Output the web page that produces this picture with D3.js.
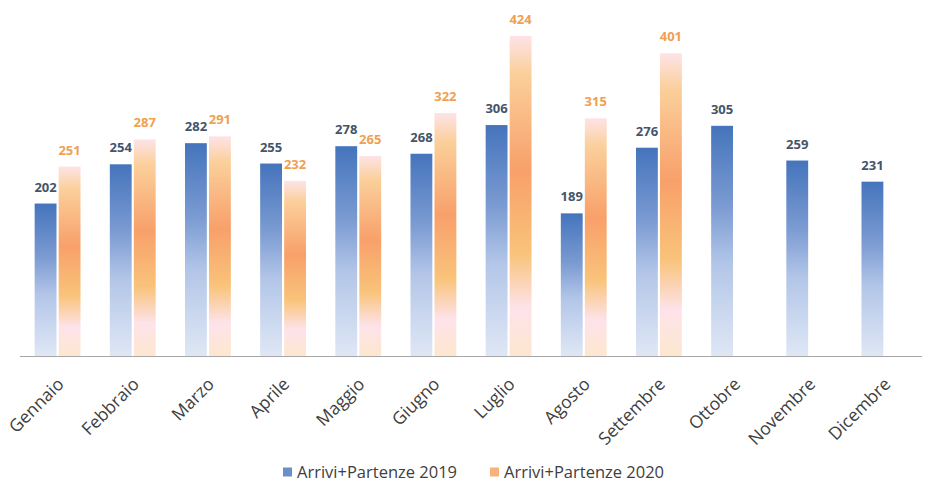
<!DOCTYPE html>
<html>
<head>
<meta charset="utf-8">
<script src="https://cdn.jsdelivr.net/npm/d3@7"></script>
<style>
  body { margin: 0; background: #fff; }
  svg { display: block; font-family: "Open Sans", "Liberation Sans", sans-serif; }
</style>
</head>
<body>
<div id="chart"></div>
<script>
// ---- data ----
const months = ["Gennaio","Febbraio","Marzo","Aprile","Maggio","Giugno","Luglio","Agosto","Settembre","Ottobre","Novembre","Dicembre"];
const series = ["Arrivi+Partenze 2019","Arrivi+Partenze 2020"];
const values2019 = [202,254,282,255,278,268,306,189,276,305,259,231];
const values2020 = [251,287,291,232,265,322,424,315,401,null,null,null];

const width = 926, height = 483;
const baseY = 356;

const svg = d3.select("#chart").append("svg")
    .attr("width", width)
    .attr("height", height);

// gradients
const defs = svg.append("defs");
const gBlue = defs.append("linearGradient").attr("id","gBlue")
    .attr("x1",0).attr("y1",0).attr("x2",0).attr("y2",1);
[[0,"#4574bc"],[0.35,"#7b9bd2"],[0.6,"#b3c6e8"],[1,"#dfe7f5"]].forEach(function(s){
    gBlue.append("stop").attr("offset",s[0]).attr("stop-color",s[1]);
});
const gOrange = defs.append("linearGradient").attr("id","gOrange")
    .attr("x1",0).attr("y1",0).attr("x2",0).attr("y2",1);
[[0,"#fde3e6"],[0.12,"#fbcf9a"],[0.42,"#f8a06a"],[0.68,"#f9c37a"],[0.85,"#fde3ea"],[1,"#fde7cf"]].forEach(function(s){
    gOrange.append("stop").attr("offset",s[0]).attr("stop-color",s[1]);
});

//----------------------------SCALES----------------------------//
const x0 = d3.scaleBand().domain(months).range([20, 922]).paddingInner(0.39).paddingOuter(0.195);
const x1 = d3.scaleBand().domain(series).range([0, x0.bandwidth()]).paddingInner(0.09);
const y = d3.scaleLinear().domain([0, 450]).range([baseY, baseY - 450 * 0.7547]);

const rows = months.map(function(m, i){
    return {month: m, vals: [
        {s: series[0], v: values2019[i], fill: "url(#gBlue)", color: "#44546a"},
        {s: series[1], v: values2020[i], fill: "url(#gOrange)", color: "#f0a050"}
    ].filter(function(d){ return d.v != null; })};
});

//----------------------------BARS-----------------------------//
const groups = svg.selectAll("g.month")
    .data(rows)
    .enter().append("g")
    .attr("class","month")
    .attr("transform", function(d){ return "translate(" + x0(d.month) + ",0)"; });

groups.selectAll("rect")
    .data(function(d){ return d.vals; })
    .enter().append("rect")
    .attr("x", function(d){ return x1(d.s); })
    .attr("y", function(d){ return y(d.v); })
    .attr("width", x1.bandwidth())
    .attr("height", function(d){ return baseY - y(d.v); })
    .attr("fill", function(d){ return d.fill; });

groups.selectAll("text.val")
    .data(function(d){ return d.vals; })
    .enter().append("text")
    .attr("class","val")
    .attr("x", function(d){ return x1(d.s) + x1.bandwidth()/2; })
    .attr("y", function(d){ return y(d.v) - 12; })
    .attr("text-anchor","middle")
    .attr("font-size", 13)
    .attr("font-weight", "bold")
    .attr("fill", function(d){ return d.color; })
    .text(function(d){ return d.v; });

//-----------------------------AXIS-----------------------------//
const xaxis = d3.axisBottom(x0).tickSize(0).tickSizeOuter(0);
const ax = svg.append("g")
    .attr("transform", "translate(0," + baseY + ")")
    .call(xaxis);
ax.select(".domain").attr("stroke", "#a6a6a6").attr("stroke-width", 1.2)
    .attr("d", "M20,0.5H922");
ax.selectAll("text")
    .attr("font-size", 17.5)
    .attr("fill", "#404040")
    .attr("font-family", "Open Sans, sans-serif")
    .attr("text-anchor", "end")
    .attr("dy", "0.35em")
    .attr("y", 0)
    .attr("transform", "translate(3,25) rotate(-45)");

//----------------------------LEGEND----------------------------//
const legend = svg.append("g").attr("transform", "translate(283,472)");
const leg = legend.selectAll("g")
    .data(series)
    .enter().append("g")
    .attr("transform", function(d, i){ return "translate(" + (i * 207) + ",0)"; });
leg.append("rect")
    .attr("x", 0).attr("y", -4.5)
    .attr("width", 9).attr("height", 9)
    .attr("fill", function(d, i){ return i === 0 ? "#6c8fcb" : "#f6b27a"; });
leg.append("text")
    .attr("x", 14).attr("y", 0).attr("dy", "0.35em")
    .attr("font-size", 16.5)
    .attr("fill", "#404040")
    .text(function(d){ return d; });
</script>
</body>
</html>
